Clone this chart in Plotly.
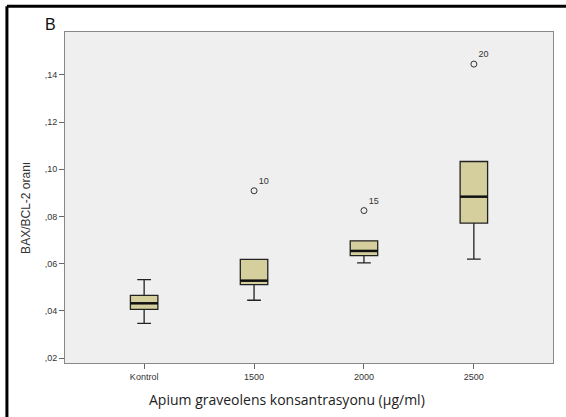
import plotly.graph_objects as go

categories = ["Kontrol", "1500", "2000", "2500"]
lower_whisker = [0.0347, 0.0445, 0.0603, 0.0619]
q1 = [0.0406, 0.0511, 0.0634, 0.0772]
median = [0.0432, 0.0528, 0.0654, 0.0884]
q3 = [0.0466, 0.0618, 0.0697, 0.1033]
upper_whisker = [0.0532, 0.0618, 0.0697, 0.1033]

outlier_cat = ["1500", "2000", "2500"]
outlier_val = [0.0909, 0.0825, 0.1446]
outlier_lab = ["10", "15", "20"]

ytick_vals = [0.02, 0.04, 0.06, 0.08, 0.10, 0.12, 0.14]
ytick_text = [",02", ",04", ",06", ",08", ",10", ",12", ",14"]

xpos = list(range(len(categories)))
box_w = 0.25

fig = go.Figure()
fig.add_trace(go.Box(
    x=xpos, q1=q1, median=median, q3=q3,
    lowerfence=lower_whisker, upperfence=upper_whisker,
    width=box_w, whiskerwidth=0.5,
    fillcolor="#d4cf9c", line=dict(color="#222222", width=1.3),
    boxpoints=False, showlegend=False, hoverinfo="skip",
))
# thicker median lines
for i, m in enumerate(median):
    fig.add_trace(go.Scatter(
        x=[xpos[i] - box_w / 2, xpos[i] + box_w / 2], y=[m, m],
        mode="lines", line=dict(color="#111111", width=2.5),
        showlegend=False, hoverinfo="skip",
    ))
ox = [categories.index(c) for c in outlier_cat]
fig.add_trace(go.Scatter(
    x=ox, y=outlier_val, mode="markers+text",
    marker=dict(symbol="circle-open", size=6, color="#333333", line=dict(width=1)),
    text=outlier_lab, textposition="top right",
    textfont=dict(size=9, color="#333333", family="Liberation Sans"),
    showlegend=False, hoverinfo="skip",
))

fig.update_layout(
    width=566, height=417,
    margin=dict(l=65, r=13, t=32, b=54),
    paper_bgcolor="white", plot_bgcolor="#efefef",
    font=dict(family="Liberation Sans", color="#333333"),
    xaxis=dict(
        range=[-0.72, 3.72], tickvals=xpos, ticktext=categories,
        ticks="outside", ticklen=5, tickcolor="#666666",
        tickfont=dict(size=9, color="#333333"),
        showgrid=False, zeroline=False,
        showline=True, linecolor="#888888", mirror=True, linewidth=1,
    ),
    yaxis=dict(
        range=[0.0179, 0.1582], tickvals=ytick_vals, ticktext=ytick_text,
        ticks="outside", ticklen=5, tickcolor="#666666",
        tickfont=dict(size=9, color="#333333"),
        showgrid=False, zeroline=False,
        showline=True, linecolor="#888888", mirror=True, linewidth=1,
    ),
    annotations=[
        dict(text="Apium graveolens konsantrasyonu (µg/ml)", xref="paper", yref="paper",
             x=0.455, y=-0.075, xanchor="center", yanchor="top", showarrow=False,
             font=dict(size=14, color="#222222", family="Open Sans")),
        dict(text="BAX/BCL-2 oranı", xref="paper", yref="paper", textangle=-90,
             x=-0.079, y=0.47, xanchor="center", yanchor="middle", showarrow=False,
             font=dict(size=12, color="#333333", family="Liberation Sans")),
        dict(text="B", xref="paper", yref="paper", x=-0.0287, y=1.024,
             xanchor="center", yanchor="middle", showarrow=False,
             font=dict(size=16, color="#111111", family="Liberation Sans")),
    ],
    shapes=[
        dict(type="line", xref="paper", yref="paper", x0=-0.119, x1=1.03, y0=1.078, y1=1.078,
             line=dict(color="black", width=3)),
        dict(type="line", xref="paper", yref="paper", x0=-0.119, x1=-0.119, y0=1.078, y1=-0.17,
             line=dict(color="black", width=3)),
    ],
)

fig.write_html("out.html", config={"displayModeBar": False},
               post_script="document.body.style.margin='0';document.body.style.overflow='hidden';")
